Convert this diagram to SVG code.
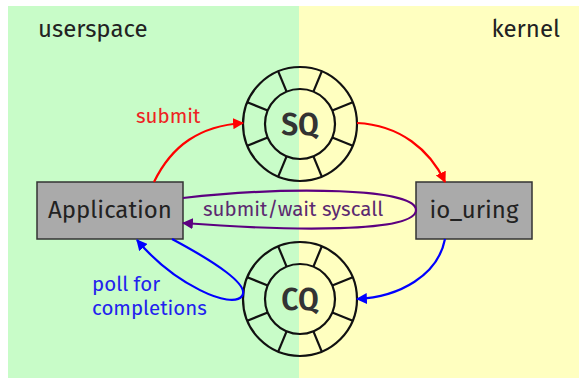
<svg xmlns="http://www.w3.org/2000/svg" width="579" height="378" viewBox="0 0 579 378">
<defs>
<style>
text{font-family:"Fira Sans","Noto Sans","Open Sans",sans-serif;}
.lbl{font-size:24px;fill:#222;}
.box{fill:#aaaaaa;stroke:#333;stroke-width:1.5;}
.ring{fill:none;stroke:#111;stroke-width:2.2;}
.q{font-size:30px;font-weight:600;fill:#333;text-anchor:middle;}
.c{fill:none;stroke-width:2.2;}
.e{font-size:20.5px;}
</style>
<marker id="ar" viewBox="0 0 10 10" refX="9" refY="5" markerWidth="5" markerHeight="5" orient="auto" markerUnits="strokeWidth"><path d="M0,0L10,5L0,10z" fill="#f00"/></marker>
<marker id="ap" viewBox="0 0 10 10" refX="9" refY="5" markerWidth="5" markerHeight="5" orient="auto" markerUnits="strokeWidth"><path d="M0,0L10,5L0,10z" fill="#5c0080"/></marker>
<marker id="ab" viewBox="0 0 10 10" refX="9" refY="5" markerWidth="5" markerHeight="5" orient="auto" markerUnits="strokeWidth"><path d="M0,0L10,5L0,10z" fill="#00f"/></marker>
<g id="ringshape">
<circle r="57" class="ring"/>
<circle r="35" class="ring"/>
<g class="ring">
<line x1="13.4" y1="-32.3" x2="21.8" y2="-52.7"/>
<line x1="-13.4" y1="-32.3" x2="-21.8" y2="-52.7"/>
<line x1="13.4" y1="32.3" x2="21.8" y2="52.7"/>
<line x1="-13.4" y1="32.3" x2="-21.8" y2="52.7"/>
<line x1="32.3" y1="-13.4" x2="52.7" y2="-21.8"/>
<line x1="-32.3" y1="-13.4" x2="-52.7" y2="-21.8"/>
<line x1="32.3" y1="13.4" x2="52.7" y2="21.8"/>
<line x1="-32.3" y1="13.4" x2="-52.7" y2="21.8"/>
</g>
</g>
</defs>
<g id="background">
<rect x="8" y="6" width="291" height="372" fill="#c8fcc8"/>
<rect x="299" y="6" width="280" height="372" fill="#ffffc0"/>
<text x="38" y="37" class="lbl">userspace</text>
<text x="560" y="37" class="lbl" text-anchor="end">kernel</text>
</g>
<g id="SQ">
<use href="#ringshape" x="300" y="124"/>
<text x="300" y="135" class="q">SQ</text>
</g>
<g id="CQ">
<use href="#ringshape" x="300" y="299"/>
<text x="300" y="310" class="q">CQ</text>
</g>
<g id="Application">
<rect x="37" y="182" width="146" height="57" class="box"/>
<text x="110" y="218" class="lbl" text-anchor="middle">Application</text>
</g>
<g id="io_uring">
<rect x="416" y="182" width="116" height="57" class="box"/>
<text x="474" y="218" class="lbl" text-anchor="middle">io_uring</text>
</g>
<g id="connectors">
<path d="M154,182 C172,145 200,126 243,123" class="c" stroke="#f00" marker-end="url(#ar)"/>
<path d="M357,123 C400,125 430,150 445,182" class="c" stroke="#f00" marker-end="url(#ar)"/>
<path d="M183,198 C290,186 416,188 416,210 C416,233 290,231 183,223" class="c" stroke="#5c0080" marker-end="url(#ap)"/>
<path d="M445,239 C438,275 400,297 357,299" class="c" stroke="#00f" marker-end="url(#ab)"/>
<path d="M172,239 C215,262 250,285 242,296 C232,310 175,285 137,240" class="c" stroke="#00f" marker-end="url(#ab)"/>
<text x="136" y="123" class="e" fill="#ee2222">submit</text>
<text x="203" y="216" class="e" fill="#5c2a70">submit/wait syscall</text>
<text x="92" y="291" class="e" fill="#2222ee">poll for</text>
<text x="92" y="315" class="e" fill="#2222ee">completions</text>
</g>
</svg>
